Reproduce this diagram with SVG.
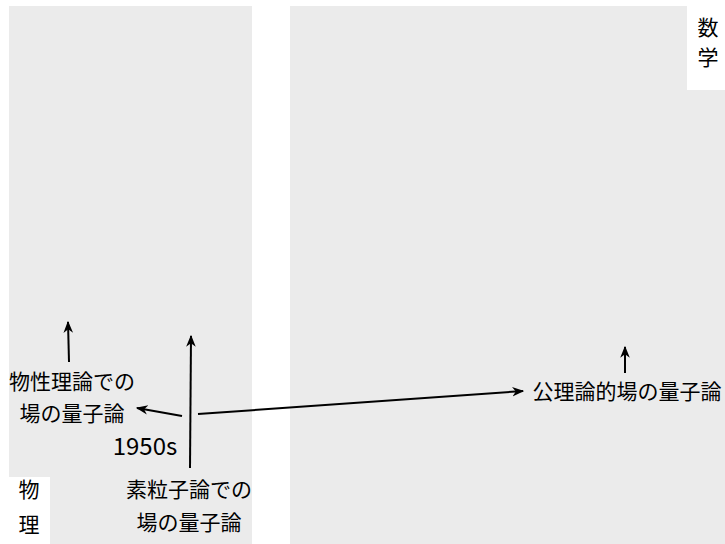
<svg xmlns="http://www.w3.org/2000/svg" width="725" height="544" viewBox="0 0 725 544">
<style>
.panel{fill:#ebebeb}
.box{fill:#ffffff}
text{font-family:"Noto Sans CJK JP","Noto Sans",sans-serif;font-size:21px;fill:#000}
.c{text-anchor:middle}
.y{font-size:24px}
.e{stroke:#000;stroke-width:2;fill:none;marker-end:url(#ah)}
</style>
<defs>
<marker id="ah" viewBox="0 0 10 10" refX="9" refY="5" markerWidth="12" markerHeight="12" markerUnits="userSpaceOnUse" orient="auto">
<path d="M0,1 L10,5 L0,9 L3,5 Z" fill="#000"/>
</marker>
</defs>
<g id="physics">
<rect class="panel" x="9" y="6" width="243" height="538"/>
<rect class="box" x="9" y="477" width="41" height="67"/>
<text class="c" x="29" y="497">物</text>
<text class="c" x="29" y="532">理</text>
</g>
<g id="math">
<rect class="panel" x="290" y="6" width="435" height="538"/>
<rect class="box" x="687" y="6" width="38" height="84"/>
<text class="c" x="708" y="35">数</text>
<text class="c" x="708" y="65">学</text>
</g>
<g id="cond">
<text class="c" x="72" y="389">物性理論での</text>
<text class="c" x="72" y="421">場の量子論</text>
</g>
<g id="year">
<text class="c y" x="145" y="455">1950s</text>
</g>
<g id="particle">
<text class="c" x="189" y="497">素粒子論での</text>
<text class="c" x="189" y="530">場の量子論</text>
</g>
<g id="axiomatic">
<text class="c" x="627" y="399">公理論的場の量子論</text>
</g>
<g id="connectors">
<line class="e" x1="69" y1="362" x2="68" y2="322"/>
<line class="e" x1="190" y1="468" x2="191" y2="336"/>
<line class="e" x1="182" y1="416" x2="137" y2="408"/>
<line class="e" x1="198" y1="414" x2="523" y2="391"/>
<line class="e" x1="625" y1="373" x2="625" y2="347"/>
</g>
</svg>
